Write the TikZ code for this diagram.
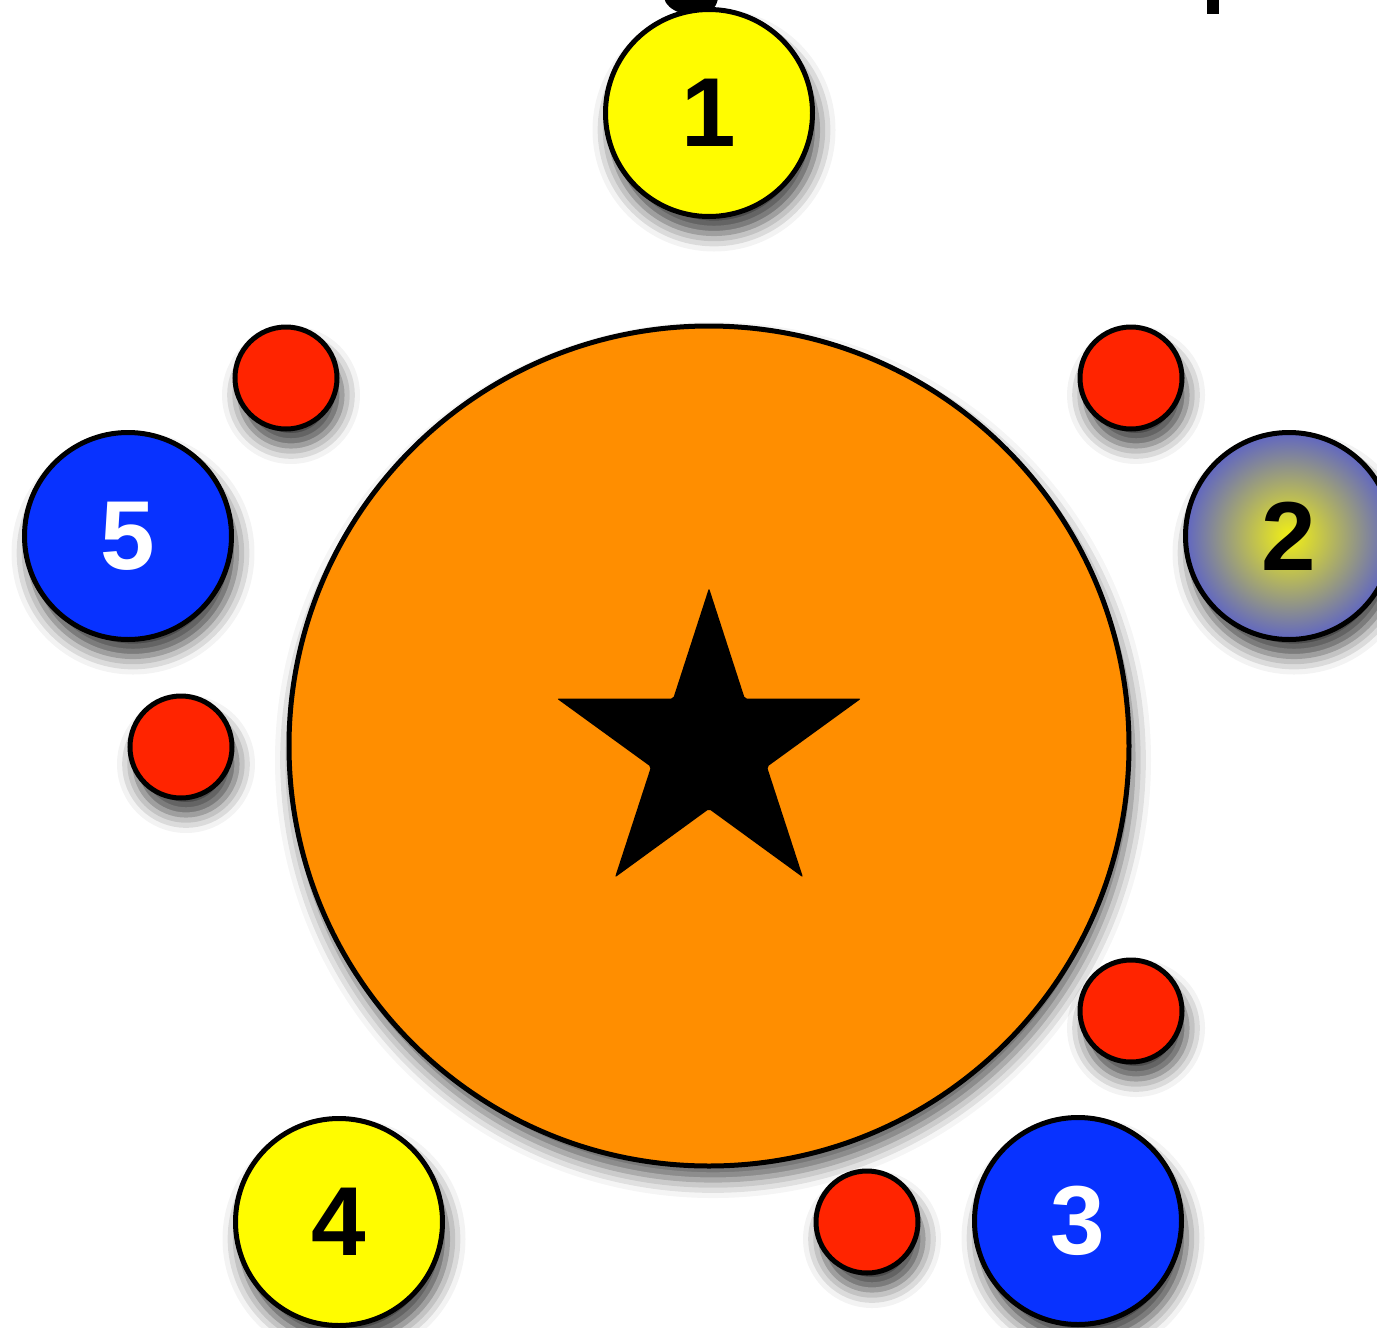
\documentclass[tikz,border=0pt]{standalone}
\usepackage{fontspec}
\newfontfamily\numfont{Liberation Sans}
\usetikzlibrary{shadows.blur,calc}
\definecolor{ballyellow}{RGB}{255,252,0}
\definecolor{ballblue}{RGB}{8,50,255}
\definecolor{dotred}{RGB}{255,36,0}
\definecolor{bigorange}{RGB}{255,142,0}
\definecolor{gradblue}{RGB}{96,102,194}
\definecolor{gradyellow}{RGB}{242,240,20}
\tikzset{
  shad/.style={blur shadow={shadow xshift=5pt, shadow yshift=-17pt, shadow blur radius=18pt, shadow opacity=75}},
  ball/.style={circle, draw=black, line width=5pt, inner sep=0pt, minimum size=207pt,
    font=\numfont\bfseries\fontsize{98}{98}\selectfont, shad},
  dot/.style={circle, draw=black, line width=5pt, inner sep=0pt, minimum size=102pt, fill=dotred, shad},
}
\begin{document}
\begin{tikzpicture}[x=1pt,y=-1pt]
\useasboundingbox (0,0) rectangle (1377,1328);
\clip (0,0) rectangle (1377,1328);
% cut-off fragments at top edge
\fill[black] (664,-2) .. controls (667,12) and (690,17) .. (700,15) .. controls (712,13) and (717,6) .. (718,-2) -- cycle;
\fill[black] (1207,-2) rectangle (1219,14);
% big circle
\node[circle, draw=black, line width=5pt, fill=bigorange, minimum size=840pt, inner sep=0pt,
  blur shadow={shadow xshift=4pt, shadow yshift=-14pt, shadow blur radius=18pt, shadow opacity=65}] (big) at (709,746) {};
\coordinate (sc) at (709,748);
\fill[black, line join=round, rounded corners=2pt]
  ($(sc)+(-90:160)$) -- ($(sc)+(-54:61)$) -- ($(sc)+(-18:160)$) -- ($(sc)+(18:61)$) --
  ($(sc)+(54:160)$) -- ($(sc)+(90:61)$) -- ($(sc)+(126:160)$) -- ($(sc)+(162:61)$) --
  ($(sc)+(198:160)$) -- ($(sc)+(234:61)$) -- cycle;
% numbered balls
\node[ball, fill=ballyellow] (n1) at (709,113) {1};
\node[ball, inner color=gradyellow, outer color=gradblue] (n2) at (1289,536) {2};
\node[ball, fill=ballblue, text=white] (n3) at (1078,1221) {3};
\node[ball, fill=ballyellow] (n4) at (339,1222) {4};
\node[ball, fill=ballblue, text=white] (n5) at (128,536) {5};
% red dots
\node[dot] (d1) at (286,378) {};
\node[dot] (d2) at (1131,378) {};
\node[dot] (d3) at (181,747) {};
\node[dot] (d4) at (1131,1011) {};
\node[dot] (d5) at (867,1222) {};
\end{tikzpicture}
\end{document}
